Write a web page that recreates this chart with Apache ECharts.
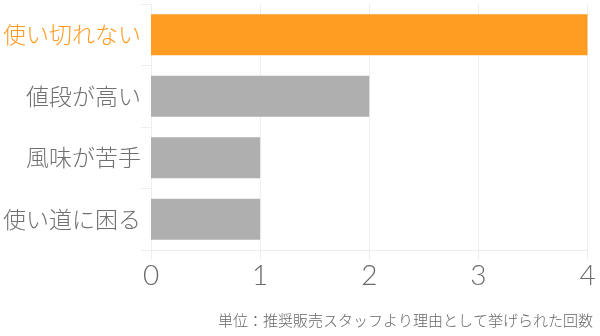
<!DOCTYPE html>
<html><head><meta charset="utf-8">
<script src="https://cdn.jsdelivr.net/npm/echarts@6/dist/echarts.min.js"></script>
<style>html,body{margin:0;padding:0;background:#fff}#c{width:600px;height:336px}</style>
</head><body><div id="c"></div>
<script>
const categories = ['使い切れない', '値段が高い', '風味が苦手', '使い道に困る'];
const values = [4, 2, 1, 1];
const barColors = ['#FF9C21', '#AFAFAF', '#AFAFAF', '#AFAFAF'];
const labelColors = ['#FF9C21', '#707070', '#707070', '#707070'];
const xTicks = [0, 1, 2, 3, 4];
const footnote = '単位：推奨販売スタッフより理由として挙げられた回数';

const chart = echarts.init(document.getElementById('c'), null, {renderer: 'canvas'});
chart.setOption({
  animation: false,
  backgroundColor: '#fff',
  grid: {left: 150, right: 12.5, top: 4, bottom: 86, containLabel: false},
  xAxis: {
    type: 'value', min: xTicks[0], max: xTicks[xTicks.length - 1], interval: 1,
    axisLine: {show: true, lineStyle: {color: '#EEEEEE'}},
    axisTick: {show: true, length: 10, lineStyle: {color: '#EEEEEE'}},
    splitLine: {show: true, lineStyle: {color: '#EEEEEE'}},
    axisLabel: {fontSize: 28, color: '#6A6A6A', fontWeight: 300, margin: 12,
      fontFamily: 'Lato, "Noto Sans", sans-serif'}
  },
  yAxis: {
    type: 'category', data: categories, inverse: true,
    axisLine: {show: false},
    axisTick: {show: true, length: 10, lineStyle: {color: '#EEEEEE'}},
    axisLabel: {fontSize: 23, margin: 10, fontWeight: 300, fontFamily: '"Noto Sans CJK JP", sans-serif',
      color: (v, i) => labelColors[i]}
  },
  series: [{
    type: 'bar', barWidth: '67%',
    data: values.map((v, i) => ({value: v, itemStyle: {color: barColors[i]}}))
  }],
  graphic: [{
    type: 'text', right: 7, top: 313,
    style: {text: footnote, fontSize: 15, fill: '#666666', fontWeight: 300,
      fontFamily: '"Noto Sans CJK JP", sans-serif'}
  }]
});
</script></body></html>
